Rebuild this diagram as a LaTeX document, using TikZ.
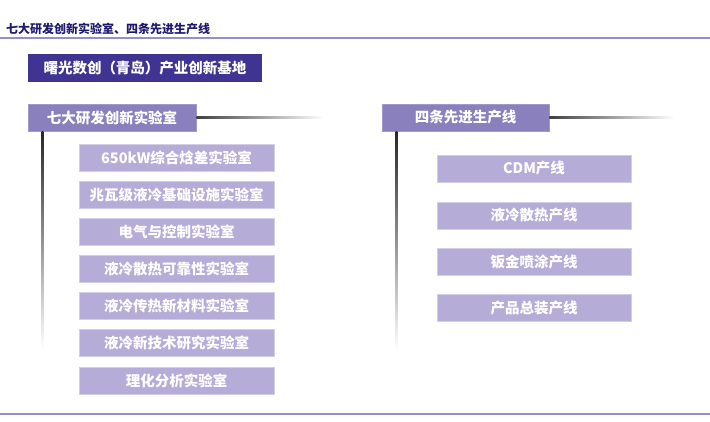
\documentclass[tikz,border=0pt]{standalone}
\usepackage{fontspec}
\setmainfont{Noto Sans CJK SC}
\definecolor{titlenavy}{RGB}{32,26,110}
\definecolor{rulelav}{RGB}{150,140,208}
\definecolor{basepurple}{RGB}{64,52,146}
\definecolor{headpurple}{RGB}{138,128,190}
\definecolor{itemlav}{RGB}{181,173,215}
\begin{document}
\begin{tikzpicture}[x=1pt,y=-1pt,
  every node/.style={font=\bfseries\fontsize{14.5}{16}\selectfont,text=white,inner sep=0pt},
  headbox/.style={fill=headpurple,draw=headpurple!80!white,line width=0.6pt,minimum height=27pt},
  itembox/.style={fill=itemlav,draw=itemlav!60!white,line width=0.8pt,minimum height=27pt}]
\useasboundingbox (0,0) rectangle (710,421);
% title and rules
\node[anchor=west,text=titlenavy,font=\bfseries\fontsize{12}{14}\selectfont] (title) at (6,28.5) {七大研发创新实验室、四条先进生产线};
\draw[rulelav,line width=1.1pt] (0,38) -- (710,38);
\draw[rulelav,line width=1.1pt] (0,414) -- (710,414);
% base
\node[fill=basepurple,minimum width=234pt,minimum height=28pt] (base) at (145,68) {曙光数创（青岛）产业创新基地};
% left column
\node[headbox,minimum width=168pt] (lhead) at (112,117.5) {七大研发创新实验室};
\shade[left color=black!75,right color=white] ([yshift=1pt]lhead.east) rectangle ++(127,2);
\shade[top color=black!85,bottom color=white] ([xshift=14pt]lhead.south west) rectangle ++(1.6,218);
\node[itembox,minimum width=195pt] (lab1) at (176.5,157.5) {650kW综合焓差实验室};
\node[itembox,minimum width=195pt] (lab2) at (176.5,194.5) {兆瓦级液冷基础设施实验室};
\node[itembox,minimum width=195pt] (lab3) at (176.5,231.5) {电气与控制实验室};
\node[itembox,minimum width=195pt] (lab4) at (176.5,268.5) {液冷散热可靠性实验室};
\node[itembox,minimum width=195pt] (lab5) at (176.5,305.5) {液冷传热新材料实验室};
\node[itembox,minimum width=195pt] (lab6) at (176.5,343) {液冷新技术研究实验室};
\node[itembox,minimum width=195pt] (lab7) at (176.5,380.5) {理化分析实验室};
% right column
\node[headbox,minimum width=167pt] (rhead) at (465.5,117.5) {四条先进生产线};
\shade[left color=black!75,right color=white] ([yshift=1pt]rhead.east) rectangle ++(125,2);
\shade[top color=black!85,bottom color=white] ([xshift=14pt]rhead.south west) rectangle ++(1.6,220);
\node[itembox,minimum width=194pt] (line1) at (534,168.5) {CDM产线};
\node[itembox,minimum width=194pt] (line2) at (534,215.5) {液冷散热产线};
\node[itembox,minimum width=194pt] (line3) at (534,262) {钣金喷涂产线};
\node[itembox,minimum width=194pt] (line4) at (534,308) {产品总装产线};
\end{tikzpicture}
\end{document}
